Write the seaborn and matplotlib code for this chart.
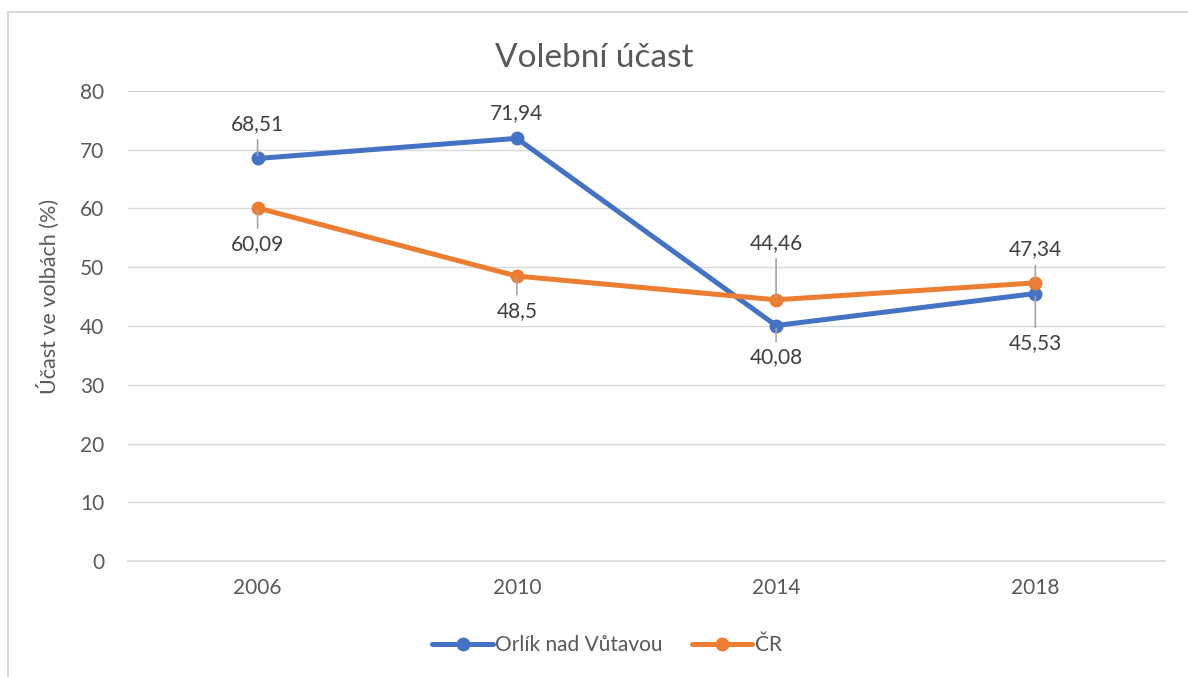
import matplotlib.pyplot as plt
import seaborn as sns
import pandas as pd
from matplotlib.lines import Line2D

# data
years = ["2006", "2010", "2014", "2018"]
orlik = [68.51, 71.94, 40.08, 45.53]
cr = [60.09, 48.5, 44.46, 47.34]
orlik_labels = ["68,51", "71,94", "40,08", "45,53"]
cr_labels = ["60,09", "48,5", "44,46", "47,34"]

# label offsets in points (dx, dy) and whether a leader line is drawn
orlik_offsets = [(0, 25), (0, 18), (0, -23), (0, -36)]
orlik_leader = [True, False, True, True]
cr_offsets = [(0, -26), (0, -25), (0, 41), (0, 24)]
cr_leader = [True, True, True, True]

blue = "#4472C4"
orange = "#ED7D31"
grey_text = "#595959"
label_text = "#404040"
grid = "#D9D9D9"

sns.set_theme(style="white")
plt.rcParams['font.family'] = ['Lato', 'DejaVu Sans']

df = pd.DataFrame({"rok": years * 2,
                   "ucast": orlik + cr,
                   "serie": ["Orlík nad Vůtavou"] * 4 + ["ČR"] * 4})

fig = plt.figure(figsize=(11.88, 6.77), dpi=100)
ax = fig.add_axes([0.1077, 0.1713, 0.8729, 0.6943])

sns.lineplot(data=df, x="rok", y="ucast", hue="serie",
             palette=[blue, orange], marker="o", markersize=10,
             markeredgewidth=0, linewidth=3.6, sort=False, ax=ax, legend=False)

ax.set_xlim(-0.5, 3.5)
ax.set_ylim(0, 80)
ax.set_yticks(range(0, 81, 10))
ax.grid(axis="y", color=grid, linewidth=1)
ax.set_axisbelow(True)
for s in ["top", "right", "left"]:
    ax.spines[s].set_visible(False)
ax.spines["bottom"].set_color(grid)
ax.tick_params(axis="both", length=0, labelsize=15, colors=grey_text)
ax.tick_params(axis="x", pad=12)
ax.tick_params(axis="y", pad=17)
ax.set_xlabel("")
ax.set_ylabel("")

fig.text(48 / 1188, 1 - 296 / 677, "Účast ve volbách (%)", rotation=90,
         ha="center", va="center", fontsize=15.5, color=grey_text)


def add_labels(vals, labels, offsets, leaders):
    for i, (v, t, off, ld) in enumerate(zip(vals, labels, offsets, leaders)):
        props = dict(arrowstyle="-", color="#A6A6A6", lw=1.2,
                     shrinkA=2, shrinkB=2) if ld else None
        ax.annotate(t, xy=(i, v), xytext=off, textcoords="offset points",
                    ha="center", va="center", fontsize=15, color=label_text,
                    arrowprops=props, zorder=5)


add_labels(orlik, orlik_labels, orlik_offsets, orlik_leader)
add_labels(cr, cr_labels, cr_offsets, cr_leader)

fig.text(0.5, 0.915, "Volební účast", ha="center", va="center",
         fontsize=24, color=grey_text)

handles = [Line2D([], [], color=blue, lw=3.6, marker="o", markersize=10, markeredgewidth=0),
           Line2D([], [], color=orange, lw=3.6, marker="o", markersize=10, markeredgewidth=0)]
fig.legend(handles, ["Orlík nad Vůtavou", "ČR"], loc="center",
           bbox_to_anchor=(0.511, 0.047), ncol=2, frameon=False,
           fontsize=15, labelcolor=grey_text, handlelength=2.9,
           handletextpad=0.12, columnspacing=1.4)

# chart frame
fig.add_artist(Line2D([8 / 1188, 8 / 1188], [0, 1 - 12 / 677], color=grid, lw=1.5))
fig.add_artist(Line2D([8 / 1188, 1], [1 - 12 / 677, 1 - 12 / 677], color=grid, lw=1.5))

plt.savefig("out.png", dpi=100)
